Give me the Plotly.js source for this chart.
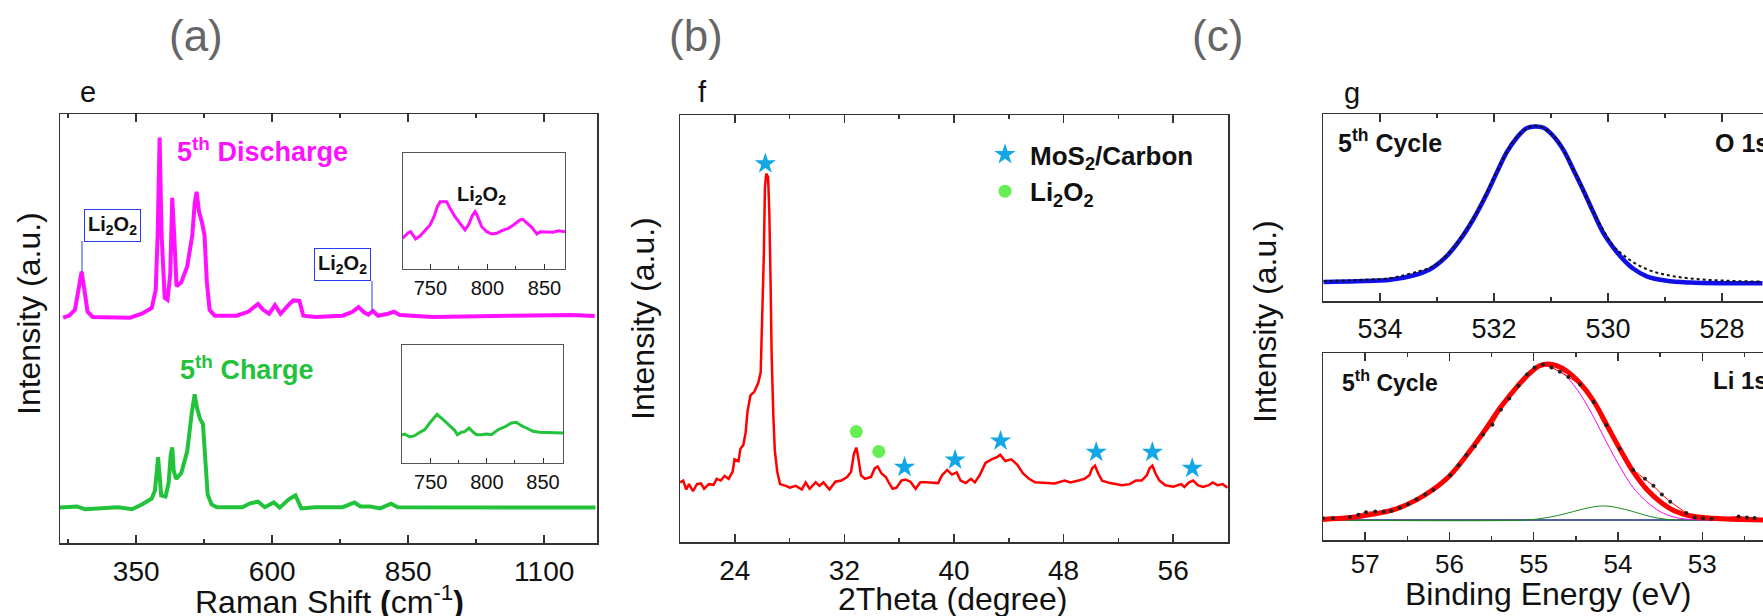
<!DOCTYPE html>
<html><head><meta charset="utf-8">
<script src="https://cdn.plot.ly/plotly-3.0.1.min.js"></script>
<style>html,body{margin:0;padding:0;overflow:hidden;background:#fff}</style>
</head><body><div id="chart" style="width:1763px;height:616px"></div>
<script>
// ---------- DATA ----------
// (e) Raman, 5th discharge
const ramanDischargeX = [215.8,226.6,237.5,244.7,249.8,254.9,260.7,270.1,317.1,338.8,360.5,378.6,385.9,389.5,393.1,396.7,402.5,407.6,412.6,416.3,419.9,424.2,432.9,443.8,453.2,457.5,461.1,465.5,471.3,475.6,479.9,485,494.4,534.2,555.9,574,583.4,594.3,605.1,615.3,631.9,639.1,650,657.2,679,729.6,747.7,758.6,769.4,776.7,785.3,794.7,812.8,823.7,834.5,896,1040.8,1149.3,1192.8];
const ramanDischargeY = [57.3,57.8,59.3,64.3,69.0,64.3,58.8,57.5,57.5,57.3,58.3,59.8,64.3,78.3,103.1,78.3,62.3,61.8,68.3,87.8,78.3,65.3,66.3,70.3,78.3,86.3,89.3,84.3,81.3,78.3,66.3,59.3,57.8,57.8,58.8,60.8,59.3,58.3,60.5,58.3,60.8,61.7,61.6,57.8,57.5,57.8,58.8,60.0,58.6,58.1,59.0,57.8,58.3,58.8,58.0,57.5,57.8,58.0,57.7];
// (e) Raman, 5th charge
const ramanChargeX = [210,241.1,255.6,317.1,342.4,360.5,378.6,384.4,388,390.2,392.4,396,403.9,409.7,413.4,416.3,419.1,423.5,432.9,443.8,452.4,457.5,461.8,467.6,472.7,476.3,481.4,488.6,498,545.1,559.5,574,586.3,603,613.8,630.5,642.8,653.6,679,729.6,751.3,762.2,780.3,798.4,818.6,830.9,896,1040.8,1194.2];
const ramanChargeY = [9.0,9.3,8.6,9.1,8.6,9.8,11.3,13.3,18.3,21.8,18.3,12.1,11.8,15.3,22.3,24.3,18.3,16.3,17.8,23.3,33.3,37.8,34.3,31.5,30.3,23.3,12.3,9.8,9.1,9.1,10.1,10.5,9.1,10.3,9.0,11.1,12.1,8.8,9.1,9.1,10.3,9.3,9.3,8.8,10.0,9.1,9.0,9.0,9.0];
// insets (zoom 725-870 cm-1)
const insetDischargeX = [725.7,730.7,732.7,735,737.1,740.9,745.3,749.7,753.2,756.1,758.5,764.3,767.2,771.6,776,780.4,783.3,787.1,789.2,791.2,795,799.4,803.8,808.2,812.6,818.4,822.8,828.6,831,834.5,838.9,841.8,843.3,846.2,852,857.8,862.2,868];
const insetDischargeY = [30.7,36.3,37.3,34,30,33,39,44,52.3,62.3,67.3,67.3,60.7,52.3,45.7,39,44,54,57.3,53,42.3,37.3,35,35.7,38.3,40.7,44,49,49.7,45.7,41.7,37.3,35,37.3,37,36.7,38.3,37.3];
const insetChargeX = [724.4,726.8,731.3,735.7,740.2,744.7,749.1,753.6,755.6,759.5,764,768.4,771.3,773.7,777.3,780.2,784.1,787.1,790.7,795.1,799.6,804,809.9,815.9,821.8,826.3,830.7,835.2,841.1,847,858.9,867.8];
const insetChargeY = [28.3,29,26,27.3,30.7,33.3,40,46,48.7,45,40,36,32.7,28.3,30.7,31.3,35,31.7,28.3,28.3,29,28.3,33.3,36,40,40.7,37.3,35,31.7,30.7,30.3,30];
// (f) XRD
const xrdX = [20.00,20.23,20.46,20.66,20.95,21.24,21.53,21.76,22.11,22.45,22.68,22.97,23.26,23.55,23.84,23.98,24.27,24.41,24.62,24.79,24.93,25.14,25.42,25.71,25.89,26.00,26.12,26.20,26.29,26.43,26.52,26.61,26.69,26.81,26.92,27.10,27.30,27.73,28.02,28.45,28.89,29.17,29.46,29.90,30.18,30.47,30.91,31.34,31.77,32.20,32.49,32.69,32.87,33.01,33.21,33.50,33.94,34.22,34.43,34.71,35.03,35.23,35.52,35.81,36.16,36.45,36.82,37.20,37.54,37.97,38.41,38.84,39.13,39.50,39.85,40.20,40.48,40.86,41.24,41.52,41.87,42.30,42.74,43.17,43.37,43.74,44.18,44.61,45.04,45.48,45.91,46.77,47.35,48.07,48.51,49.08,49.52,49.89,50.09,50.29,50.53,50.81,51.39,52.26,52.83,53.27,53.70,54.07,54.28,54.48,54.71,55.00,55.43,56.01,56.58,56.82,57.16,57.45,57.80,58.17,58.60,58.89,59.24,59.61,59.96];
const xrdY = [16.8,17.3,14.8,16.3,14.3,16.3,16.5,15.0,16.3,16.1,17.8,17.3,18.6,17.8,19.8,23.3,22.8,26.3,27.3,30.8,36.8,41.3,42.3,44.8,47.8,60.8,80.8,99.8,103.8,102.8,92.8,73.8,52.8,35.8,25.8,19.8,16.3,15.8,15.3,15.8,14.8,16.8,15.0,16.8,15.8,16.8,14.8,17.0,17.3,18.3,19.8,24.8,26.6,23.8,18.8,17.8,18.3,20.8,21.3,19.3,18.3,16.8,15.0,15.3,17.3,17.6,17.0,15.0,16.8,16.8,16.8,16.6,18.8,20.3,19.0,19.6,17.3,16.6,17.8,16.8,18.8,22.3,23.3,24.0,24.6,22.8,23.3,21.8,19.3,17.8,16.8,16.6,16.5,17.3,16.8,17.3,17.8,18.8,20.8,21.5,19.3,17.3,16.6,16.0,16.3,17.3,17.3,18.8,20.8,21.5,19.3,17.3,16.0,15.6,16.3,15.5,16.8,17.3,16.0,15.5,16.0,16.8,16.0,16.3,15.3];
const starX = [26.23,36.39,40.08,43.40,50.38,54.48,57.39];
const starY = [106.6,21.1,23.1,28.5,25.3,25.3,20.8];
const li2o2X = [32.87,34.51];
const li2o2Y = [31.1,25.5];
// (g) XPS O 1s
const o1sFitX = [534.99,534.41,533.82,533.42,533.12,532.83,532.60,532.36,532.13,531.95,531.78,531.60,531.43,531.28,531.13,530.96,530.78,530.61,530.43,530.26,530.08,529.91,529.73,529.56,529.32,528.97,528.56,527.98,527.29];
const o1sFitY = [19.1,19.8,21.2,25.5,31.8,44.9,60.8,82.0,106.7,128.6,148.4,163.3,172.8,174.6,173.2,165.0,150.9,131.5,110.3,89.1,67.9,53.7,41.4,32.5,24.7,20.2,18.4,17.7,17.7];
const o1sDataX = [534.99,534.41,533.82,533.53,533.30,533.12,532.83,532.36,531.95,531.60,531.28,530.96,530.61,530.26,529.91,529.73,529.56,529.32,529.09,528.85,528.56,528.27,527.98,527.68,527.29];
const o1sDataY = [19.8,20.9,23.0,26.5,30.1,33.2,45.6,82.7,129.3,164.0,175.3,165.7,132.2,89.8,55.5,45.9,38.9,31.8,27.6,24.7,22.6,21.2,20.5,19.8,19.4];
// (g) XPS Li 1s
const li1sEnvX = [57.50,57.18,56.90,56.63,56.39,56.19,55.99,55.80,55.60,55.40,55.20,55.04,54.93,54.83,54.73,54.61,54.45,54.29,54.14,53.98,53.82,53.66,53.50,53.34,53.15,52.87,52.55,52.28];
const li1sEnvY = [20.6,22.4,25.9,31.2,40.1,50.7,64.8,84.2,107.2,131.9,153.1,167.3,174.3,176.1,174.3,169.0,156.7,139.0,116.0,91.3,68.3,50.7,38.3,29.5,24.2,21.7,20.6,19.9];
const li1sMainX = [57.50,57.18,56.90,56.63,56.39,56.19,55.99,55.80,55.60,55.40,55.20,55.04,54.93,54.85,54.73,54.61,54.45,54.29,54.14,53.98,53.82,53.66,53.50,53.34,53.15,52.28];
const li1sMainY = [19.9,21.7,25.2,30.5,39.4,50.0,64.1,83.5,106.5,131.2,152.4,166.6,174.0,175.4,173.3,163.7,146.1,123.1,98.4,73.6,52.4,38.3,28.4,23.1,20.6,19.9];
const li1sMinorX = [57.50,55.12,54.93,54.73,54.53,54.33,54.17,54.02,53.82,53.62,53.42,53.15,52.28];
const li1sMinorY = [19.9,19.9,21.3,24.2,28.4,32.6,34.1,32.6,28.4,23.5,20.6,19.9,19.9];
const li1sBaseX = [57.50,52.28];
const li1sBaseY = [19.9,19.9];
const li1sDataX = [57.50,57.38,57.18,57.08,56.99,56.88,56.78,56.69,56.59,56.49,56.39,56.29,56.19,55.99,55.89,55.80,55.70,55.60,55.49,55.39,55.29,55.18,55.08,54.99,54.89,54.79,54.69,54.59,54.45,54.29,54.14,53.98,53.82,53.68,53.58,53.48,53.38,53.19,53.09,52.99,52.89,52.57,52.47,52.38];
const li1sDataY = [21.7,21.7,23.1,25.2,27.7,28.4,28.4,29.1,32.3,35.8,40.8,45.4,50.0,64.8,74.7,84.9,93.8,105.4,115.3,130.2,141.5,154.2,165.5,172.6,175.4,172.6,168.3,163.0,155.6,137.9,115.0,91.3,70.1,61.3,54.2,45.4,38.3,27.0,22.4,21.7,21.3,23.5,22.4,22.1];
// tick settings
const ramanTicks = {tick0:350, dtick:250, minor:125};
const insetTicks = {tick0:750, dtick:50, minor:25};
const xrdTicks = {tick0:24, dtick:8, minor:4};
const o1sTicks = {tick0:534, dtick:2, minor:1};
const li1sTicks = {tick0:57, dtick:1, minor:0.5};

// ---------- LAYOUT ----------
const W = 1763, H = 616;
const FONT = 'Liberation Sans, Arial, Helvetica, sans-serif';
const px = v => v / W, py = v => 1 - v / H;
const LC = '#333';
function xax(dom, range, anchor, t, fsize, opt) {
  return Object.assign({domain: dom, range: range, anchor: anchor, tick0: t.tick0, dtick: t.dtick, automargin: false,
    ticks: 'inside', ticklen: 8, tickwidth: 1.5, tickcolor: LC, showline: true, linecolor: LC, linewidth: 1.5,
    mirror: 'allticks', showgrid: false, zeroline: false, ticklabelstandoff: 3,
    minor: {ticks: 'inside', ticklen: 4, tickwidth: 1.5, tickcolor: LC, tick0: t.tick0, dtick: t.minor, showgrid: false},
    tickfont: {family: FONT, size: fsize, color: '#111'}}, opt || {});
}
function yax(dom, range, anchor, opt) {
  return Object.assign({domain: dom, range: range, anchor: anchor, showticklabels: false, ticks: '', automargin: false,
    showline: true, linecolor: LC, linewidth: 1.5, mirror: true, showgrid: false, zeroline: false}, opt || {});
}
const layout = {
  width: W, height: H, margin: {l: 0, r: 0, t: 0, b: 0, pad: 0, autoexpand: false}, paper_bgcolor: '#fff', plot_bgcolor: 'rgba(0,0,0,0)',
  font: {family: FONT, color: '#111'},
  xaxis: xax([px(60), px(597)], [210, 1197], 'y', ramanTicks, 28),
  yaxis: yax([py(543), py(114)], [0, 109.1], 'x'),
  xaxis2: xax([px(403), px(565)], [726, 868], 'y2', insetTicks, 20, {mirror: true, ticklen: 5, tickwidth: 1, linewidth: 1, linecolor: '#555', ticklabelstandoff: 1,
    minor: {ticks: 'inside', ticklen: 3, tickwidth: 1, tickcolor: LC, tick0: 750, dtick: 25}}),
  yaxis2: yax([py(269), py(153)], [0, 116], 'x2', {linewidth: 1, linecolor: '#555'}),
  xaxis3: xax([px(402), px(563)], [724.4, 867.8], 'y3', insetTicks, 20, {mirror: true, ticklen: 5, tickwidth: 1, linewidth: 1, linecolor: '#555', ticklabelstandoff: 1,
    minor: {ticks: 'inside', ticklen: 3, tickwidth: 1, tickcolor: LC, tick0: 750, dtick: 25}}),
  yaxis3: yax([py(463), py(345)], [0, 118], 'x3', {linewidth: 1, linecolor: '#555'}),
  xaxis4: xax([px(680), px(1228)], [20, 60], 'y4', xrdTicks, 28),
  yaxis4: yax([py(542), py(115)], [0, 120.3], 'x4'),
  xaxis5: xax([px(1323), 1], [535, 527.28], 'y5', o1sTicks, 27, {ticklabelstandoff: 3}),
  yaxis5: yax([py(301), py(114)], [0, 187], 'x5', {mirror: false}),
  xaxis6: xax([px(1323), 1], [57.5, 52.28], 'y6', li1sTicks, 26, {ticklabelstandoff: 0}),
  yaxis6: yax([py(540), py(353)], [0, 187], 'x6', {mirror: false}),
  showlegend: true,
  legend: {x: px(980), y: py(131), xanchor: 'left', yanchor: 'top', bgcolor: 'rgba(0,0,0,0)',
    font: {family: FONT, size: 26, color: '#111'}, itemwidth: 40, tracegroupgap: 0},
  shapes: [
    {type: 'line', xref: 'paper', yref: 'paper', x0: px(82), x1: px(82), y0: py(241), y1: py(272), line: {color: '#2a3cf0', width: 1}},
    {type: 'line', xref: 'paper', yref: 'paper', x0: px(372), x1: px(372), y0: py(281), y1: py(311), line: {color: '#2a3cf0', width: 1}}
  ],
  annotations: []
};
function ann(text, x, y, size, opt) {
  layout.annotations.push(Object.assign({text: text, xref: 'paper', yref: 'paper', x: px(x), y: py(y),
    xanchor: 'center', yanchor: 'middle', showarrow: false, font: {family: FONT, size: size, color: '#111'}}, opt || {}));
}
// panel labels
ann('(a)', 196, 36, 44, {font: {family: FONT, size: 44, color: '#666'}});
ann('(b)', 696, 36, 44, {font: {family: FONT, size: 44, color: '#666'}});
ann('(c)', 1217, 36, 44, {font: {family: FONT, size: 44, color: '#666'}});
ann('e', 88, 92, 29);
ann('f', 702, 92, 29);
ann('g', 1352, 93, 29);
// axis titles
ann('Raman Shift <b>(</b>cm<sup>-1</sup><b>)</b>', 329, 600, 32);
ann('2Theta (degree)', 953, 599, 32);
ann('Binding Energy (eV)', 1548, 594, 32);
ann('Intensity (a.u.)', 29, 314, 32, {textangle: -90});
ann('Intensity (a.u.)', 643, 319, 32, {textangle: -90});
ann('Intensity (a.u.)', 1265, 322, 32, {textangle: -90});
// panel e labels
ann('<b>5<sup>th</sup> Discharge</b>', 262, 150, 27, {font: {family: FONT, size: 27, color: '#ff11ff'}});
ann('<b>5<sup>th</sup> Charge</b>', 247, 368, 27, {font: {family: FONT, size: 27, color: '#22c33a'}});
ann('<b>Li<sub>2</sub>O<sub>2</sub></b>', 112, 225, 20, {bordercolor: '#2a3cf0', borderwidth: 1, borderpad: 3});
ann('<b>Li<sub>2</sub>O<sub>2</sub></b>', 342.5, 264.5, 20, {bordercolor: '#2a3cf0', borderwidth: 1, borderpad: 3});
ann('<b>Li<sub>2</sub>O<sub>2</sub></b>', 482, 196, 20);
// panel g labels
ann('<b>5<sup>th</sup> Cycle</b>', 1390, 141, 25);
ann('<b>O 1s</b>', 1713, 143, 25, {xanchor: 'left'});
ann('<b>5<sup>th</sup> Cycle</b>', 1390, 381, 23);
ann('<b>Li 1s</b>', 1711, 380, 24, {xanchor: 'left'});

// ---------- TRACES ----------
const traces = [
  {x: ramanDischargeX, y: ramanDischargeY, xaxis: 'x', yaxis: 'y', mode: 'lines', line: {color: '#ff11ff', width: 4}, showlegend: false},
  {x: ramanChargeX, y: ramanChargeY, xaxis: 'x', yaxis: 'y', mode: 'lines', line: {color: '#22c33a', width: 4}, showlegend: false},
  {x: insetDischargeX, y: insetDischargeY, xaxis: 'x2', yaxis: 'y2', mode: 'lines', line: {color: '#ff11ff', width: 3}, showlegend: false},
  {x: insetChargeX, y: insetChargeY, xaxis: 'x3', yaxis: 'y3', mode: 'lines', line: {color: '#22c33a', width: 3}, showlegend: false},
  {x: xrdX, y: xrdY, xaxis: 'x4', yaxis: 'y4', mode: 'lines', line: {color: '#ff0000', width: 2.5}, showlegend: false},
  {x: starX, y: starY, xaxis: 'x4', yaxis: 'y4', mode: 'markers', name: '<b>MoS<sub>2</sub>/Carbon</b>',
    marker: {symbol: 'star', size: 16, color: '#13a7e6'}},
  {x: li2o2X, y: li2o2Y, xaxis: 'x4', yaxis: 'y4', mode: 'markers', name: '<b>Li<sub>2</sub>O<sub>2</sub></b>',
    marker: {symbol: 'circle', size: 13, color: '#66ee55'}},
  {x: o1sFitX, y: o1sFitY, xaxis: 'x5', yaxis: 'y5', mode: 'lines', line: {color: '#1010e6', width: 4.5, shape: 'spline'}, showlegend: false},
  {x: o1sDataX, y: o1sDataY, xaxis: 'x5', yaxis: 'y5', mode: 'lines', line: {color: '#111', width: 2, dash: 'dot', shape: 'spline'}, showlegend: false},
  {x: li1sBaseX, y: li1sBaseY, xaxis: 'x6', yaxis: 'y6', mode: 'lines', line: {color: '#1a2a80', width: 1.5}, showlegend: false},
  {x: li1sMinorX, y: li1sMinorY, xaxis: 'x6', yaxis: 'y6', mode: 'lines', line: {color: '#1a8c1a', width: 1, shape: 'spline'}, showlegend: false},
  {x: li1sMainX, y: li1sMainY, xaxis: 'x6', yaxis: 'y6', mode: 'lines', line: {color: '#ff00ff', width: 1, shape: 'spline'}, showlegend: false},
  {x: li1sEnvX, y: li1sEnvY, xaxis: 'x6', yaxis: 'y6', mode: 'lines', line: {color: '#ff0000', width: 5, shape: 'spline'}, showlegend: false},
  {x: li1sDataX, y: li1sDataY, xaxis: 'x6', yaxis: 'y6', mode: 'lines+markers', line: {color: '#ff0000', width: 1},
    marker: {color: '#222', size: 4}, showlegend: false}
];
Plotly.newPlot('chart', traces, layout, {displayModeBar: false, staticPlot: true});
</script></body></html>
